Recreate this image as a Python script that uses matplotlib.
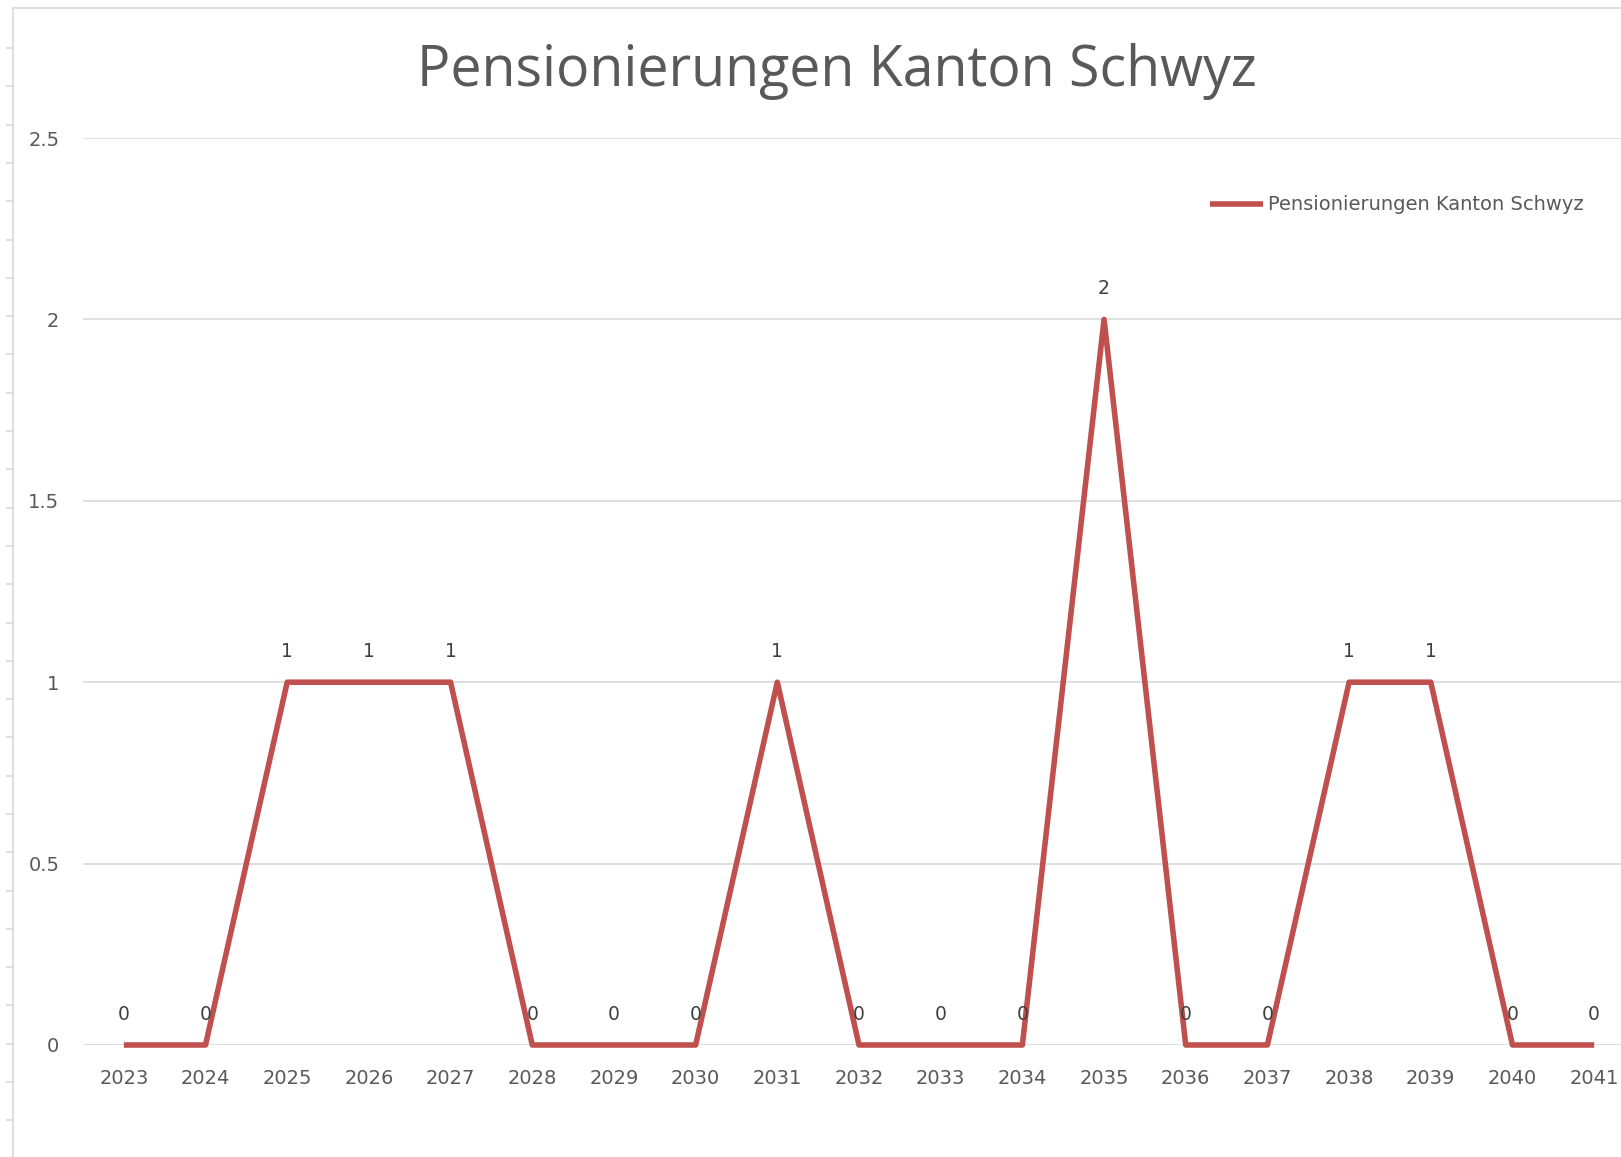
import matplotlib.pyplot as plt
from matplotlib.lines import Line2D

plt.rcParams['font.family'] = ['DejaVu Sans']

years = [str(y) for y in range(2023, 2042)]
pensionierungen = [0, 0, 1, 1, 1, 0, 0, 0, 1, 0, 0, 0, 2, 0, 0, 1, 1, 0, 0]
y_ticks = [0, 0.5, 1, 1.5, 2, 2.5]
y_labels = ["0", "0.5", "1", "1.5", "2", "2.5"]

W, H = 1621, 1157
text_grey = "#595959"
grid_grey = "#D9D9D9"
red = "#C0504D"

fig = plt.figure(figsize=(W / 100, H / 100), dpi=100)
# plot area in pixels: left 83, right 1635 (cut off), top 138, bottom 1045
ax = fig.add_axes([83 / W, (H - 1045) / H, (1635 - 83) / W, (1045 - 138) / H])

x = list(range(len(years)))
ax.plot(x, pensionierungen, color=red, linewidth=4, solid_capstyle="butt",
        label="Pensionierungen Kanton Schwyz", clip_on=False)

for xi, v in zip(x, pensionierungen):
    ax.annotate(str(v), (xi, v), xytext=(0, 22), textcoords="offset points",
                ha="center", va="center", fontsize=13.5, color="#404040")

ax.set_xlim(-0.5, len(years) - 0.5)
ax.set_ylim(0, 2.5)
ax.set_xticks(x)
ax.set_xticklabels(years)
ax.set_yticks(y_ticks)
ax.set_yticklabels(y_labels)
ax.tick_params(axis="both", length=0, labelsize=14, labelcolor=text_grey)
ax.tick_params(axis="x", pad=17)
ax.tick_params(axis="y", pad=17)
ax.grid(axis="y", color=grid_grey, linewidth=1.2)
ax.set_axisbelow(True)
for s in ax.spines.values():
    s.set_visible(False)

fig.text(837 / W, 1 - 72 / H, "Pensionierungen Kanton Schwyz", ha="center",
         va="center", fontsize=40, color=text_grey, family="Open Sans")

fig.legend(loc="center left", bbox_to_anchor=(1210 / W, 1 - 205 / H),
           frameon=False, fontsize=14, handlelength=2.7, handletextpad=0.3,
           borderpad=0, borderaxespad=0, labelcolor=text_grey)

# sheet border on the left and top
fig.add_artist(Line2D([13 / W, 13 / W], [0, 1 - 8 / H], color=grid_grey, linewidth=1.2))
fig.add_artist(Line2D([13 / W, 1], [1 - 8 / H, 1 - 8 / H], color=grid_grey, linewidth=1.2))
yy = 48
while yy < H:
    fig.add_artist(Line2D([7 / W, 13 / W], [1 - yy / H, 1 - yy / H], color=grid_grey, linewidth=1.2))
    yy += 38.3

fig.savefig("out.png", dpi=100)
